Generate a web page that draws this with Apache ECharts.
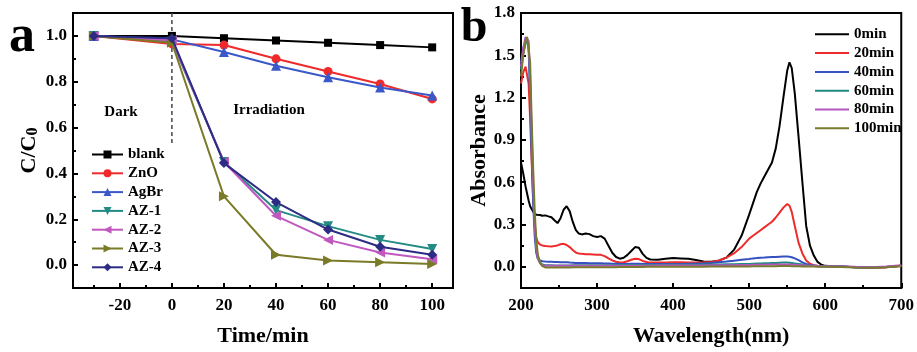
<!DOCTYPE html>
<html>
<head>
<meta charset="utf-8">
<script src="https://cdn.jsdelivr.net/npm/echarts@6/dist/echarts.min.js"></script>
<style>
  html, body { margin: 0; padding: 0; background: #fff; }
  #chart { width: 917px; height: 352px; }
</style>
</head>
<body>
<div id="chart"></div>
<script>
// ---- Panel a: C/C0 versus time ----
const timeMin = [-30, 0, 20, 40, 60, 80, 100];
const blank = [1.0, 1.0, 0.99, 0.98, 0.97, 0.96, 0.95];
const zno   = [1.0, 0.965, 0.96, 0.90, 0.845, 0.79, 0.725];
const agbr  = [1.0, 0.985, 0.93, 0.87, 0.82, 0.775, 0.74];
const az1   = [1.0, 0.975, 0.45, 0.24, 0.17, 0.11, 0.07];
const az2   = [1.0, 0.98, 0.45, 0.215, 0.11, 0.055, 0.025];
const az3   = [1.0, 0.97, 0.30, 0.045, 0.02, 0.012, 0.005];
const az4   = [1.0, 0.99, 0.445, 0.275, 0.155, 0.08, 0.045];
const kineticNames = ['blank', 'ZnO', 'AgBr', 'AZ-1', 'AZ-2', 'AZ-3', 'AZ-4'];

// dark / light boundary
const dividerX = 0;
const dividerY = [1.1, 0.53];

const aXMajor = [-20, 0, 20, 40, 60, 80, 100];
const aXMinor = [-30, -10, 10, 30, 50, 70, 90];
const aYMajor = [0, 0.2, 0.4, 0.6, 0.8, 1.0];
const aYMinor = [0.1, 0.3, 0.5, 0.7, 0.9];

// ---- Panel b: UV-vis spectra ----
const wavelength = [200,203,206,208,210,212,214,216,218,220,
  222,225,228,232,236,240,244,248,252,256,
  260,264,268,272,276,280,285,290,295,300,
  305,310,315,320,325,330,335,340,345,350,
  355,360,365,370,380,390,400,410,420,430,
  440,450,460,470,480,490,500,505,510,515,
  520,525,530,535,540,545,550,553,556,560,
  565,570,575,580,585,590,595,600,610,620,
  640,660,680,700];

const abs0 = [0.74,0.66,0.57,0.52,0.47,0.43,0.41,0.39,0.38,0.37,
  0.37,0.368,0.362,0.365,0.358,0.352,0.33,0.31,0.345,0.405,
  0.43,0.395,0.32,0.262,0.236,0.23,0.236,0.232,0.218,0.212,
  0.218,0.2,0.15,0.1,0.07,0.058,0.065,0.085,0.112,0.14,
  0.135,0.092,0.064,0.052,0.05,0.058,0.062,0.06,0.057,0.048,
  0.038,0.036,0.044,0.065,0.12,0.22,0.37,0.45,0.53,0.59,
  0.64,0.69,0.74,0.84,1.0,1.2,1.39,1.45,1.41,1.23,
  0.92,0.6,0.29,0.15,0.08,0.035,0.015,0.007,0.004,0.002,
  -0.003,-0.005,-0.003,0.008];

const abs20 = [1.30,1.38,1.42,1.43,1.3,1.05,0.75,0.48,0.3,0.21,
  0.175,0.158,0.152,0.148,0.146,0.145,0.148,0.152,0.16,0.163,
  0.155,0.14,0.12,0.102,0.094,0.092,0.09,0.09,0.088,0.086,
  0.085,0.076,0.06,0.046,0.036,0.031,0.033,0.04,0.05,0.058,
  0.055,0.042,0.034,0.03,0.03,0.031,0.032,0.032,0.031,0.031,
  0.032,0.035,0.045,0.065,0.095,0.14,0.2,0.22,0.24,0.26,
  0.28,0.3,0.32,0.35,0.385,0.42,0.445,0.435,0.39,0.29,
  0.17,0.095,0.045,0.022,0.012,0.008,0.006,0.005,0.004,0.002,
  -0.002,-0.004,-0.002,0.008];

const abs40 = [1.45,1.55,1.6,1.62,1.55,1.2,0.8,0.45,0.22,0.1,
  0.06,0.045,0.04,0.038,0.037,0.036,0.034,0.034,0.033,0.033,
  0.032,0.03,0.029,0.028,0.028,0.027,0.027,0.026,0.026,0.025,
  0.025,0.024,0.023,0.022,0.022,0.021,0.021,0.021,0.022,0.022,
  0.022,0.021,0.02,0.02,0.02,0.02,0.02,0.021,0.022,0.023,
  0.025,0.028,0.033,0.038,0.044,0.05,0.056,0.06,0.062,0.065,
  0.066,0.068,0.069,0.07,0.072,0.073,0.073,0.071,0.068,0.06,
  0.047,0.032,0.021,0.014,0.009,0.006,0.005,0.004,0.003,0.002,
  -0.002,-0.003,-0.001,0.008];

const abs60 = [1.40,1.52,1.58,1.61,1.58,1.3,0.9,0.55,0.3,0.15,
  0.07,0.03,0.016,0.012,0.011,0.011,0.01,0.01,0.01,0.01,
  0.01,0.01,0.011,0.011,0.012,0.012,0.012,0.012,0.012,0.012,
  0.012,0.012,0.012,0.012,0.012,0.013,0.013,0.013,0.013,0.013,
  0.013,0.013,0.013,0.013,0.013,0.014,0.014,0.014,0.015,0.015,
  0.016,0.016,0.017,0.018,0.019,0.02,0.021,0.022,0.023,0.024,
  0.025,0.026,0.027,0.028,0.029,0.03,0.03,0.029,0.027,0.024,
  0.02,0.016,0.012,0.009,0.007,0.005,0.004,0.004,0.003,0.002,
  -0.002,-0.003,-0.001,0.008];

const abs80 = [1.42,1.55,1.63,1.64,1.6,1.35,0.95,0.58,0.3,0.14,
  0.06,0.025,0.012,0.008,0.007,0.007,0.007,0.007,0.007,0.007,
  0.008,0.008,0.008,0.008,0.008,0.008,0.008,0.008,0.008,0.008,
  0.008,0.008,0.008,0.008,0.008,0.008,0.008,0.008,0.008,0.008,
  0.008,0.008,0.008,0.008,0.009,0.009,0.009,0.01,0.01,0.01,
  0.01,0.011,0.011,0.012,0.012,0.013,0.013,0.014,0.014,0.015,
  0.015,0.016,0.016,0.017,0.017,0.017,0.017,0.017,0.016,0.015,
  0.013,0.011,0.009,0.008,0.007,0.006,0.005,0.005,0.004,0.003,
  0.0,-0.002,0.002,0.012];

const abs100 = [1.35,1.5,1.6,1.63,1.62,1.45,1.05,0.7,0.4,0.2,
  0.09,0.03,0.005,-0.004,-0.005,-0.005,-0.005,-0.004,-0.004,-0.004,
  -0.004,-0.004,-0.003,-0.003,-0.003,-0.003,-0.003,-0.002,-0.002,-0.002,
  -0.002,-0.002,-0.002,-0.002,-0.002,-0.001,-0.001,-0.001,-0.001,-0.001,
  -0.001,-0.001,0,0,0,0,0,0,0.001,0.001,
  0.001,0.002,0.002,0.002,0.003,0.003,0.003,0.004,0.004,0.004,
  0.005,0.005,0.005,0.005,0.006,0.006,0.006,0.006,0.005,0.005,
  0.004,0.003,0.003,0.002,0.002,0.001,0.001,0.0,0.0,-0.001,
  -0.004,-0.006,-0.003,0.005];

const spectraNames = ['0min', '20min', '40min', '60min', '80min', '100min'];

const bXMinor = [250, 350, 450, 550, 650];
const bYMajor = [0, 0.3, 0.6, 0.9, 1.2, 1.5, 1.8];
const bYMinor = [0.15, 0.45, 0.75, 1.05, 1.35, 1.65];

// ---- styling ----
const SERIF = '"Liberation Serif", "Times New Roman", serif';
const tickText = { fontFamily: SERIF, fontWeight: 'bold', fontSize: 17, color: '#000' };
const nameText = { fontFamily: SERIF, fontWeight: 'bold', fontSize: 22, color: '#000' };

const kineticColors = ['#000000', '#f02a2a', '#3a58c8', '#238a84', '#c058c0', '#7a7a28', '#2c2c84'];
const kineticSymbols = ['rect', 'circle', 'triangle', 'triangle', 'triangle', 'triangle', 'diamond'];
const kineticRotate = [0, 0, 0, 180, 90, -90, 0];
const kineticSizes = [8, 9, 10, 10, 10, 10, 10];
const kineticData = [blank, zno, agbr, az1, az2, az3, az4];

const spectraColors = ['#000000', '#ee2a2a', '#3550c0', '#1f8a80', '#b455c0', '#7a7a30'];
const spectraData = [abs0, abs20, abs40, abs60, abs80, abs100];

function zip(xs, ys) { return xs.map((x, i) => [x, ys[i]]); }

function majorAxis(extra) {
  return Object.assign({
    type: 'value',
    axisLine: { show: true, onZero: false, lineStyle: { color: '#000', width: 2 } },
    axisTick: { show: true, inside: true, length: 5, lineStyle: { color: '#000', width: 2 } },
    splitLine: { show: false },
    axisLabel: Object.assign({}, tickText)
  }, extra);
}
function minorAxis(extra) {
  return Object.assign({
    type: 'value',
    axisLine: { show: false, onZero: false },
    axisTick: { show: true, inside: true, length: 3, lineStyle: { color: '#000', width: 2 } },
    splitLine: { show: false },
    axisLabel: { show: false }
  }, extra);
}

const series = [];
kineticNames.forEach((name, i) => {
  series.push({
    name: name, type: 'line', xAxisIndex: 0, yAxisIndex: 0,
    data: zip(timeMin, kineticData[i]),
    symbol: kineticSymbols[i], symbolRotate: kineticRotate[i], symbolSize: kineticSizes[i],
    lineStyle: { color: kineticColors[i], width: 2 },
    itemStyle: { color: kineticColors[i] },
    z: 3 + i
  });
});
series.push({
  name: 'divider', type: 'line', xAxisIndex: 0, yAxisIndex: 0,
  data: dividerY.map(y => [dividerX, y]),
  symbol: 'none', silent: true,
  lineStyle: { color: '#444', width: 1.5, type: [4, 3] }, z: 2
});
spectraNames.forEach((name, i) => {
  series.push({
    name: name, type: 'line', xAxisIndex: 2, yAxisIndex: 2,
    data: zip(wavelength, spectraData[i]),
    symbol: 'none',
    lineStyle: { color: spectraColors[i], width: 2 },
    itemStyle: { color: spectraColors[i] },
    z: 3 + i
  });
});

const legendText = { fontFamily: SERIF, fontWeight: 'bold', fontSize: 15, color: '#000', lineHeight: 15 };

const option = {
  animation: false,
  backgroundColor: '#fff',
  grid: [
    { left: 73, top: 13, width: 380, height: 281, show: true, borderColor: '#000', borderWidth: 2, backgroundColor: 'transparent' },
    { left: 521, top: 13, width: 382, height: 281, show: true, borderColor: '#000', borderWidth: 2, backgroundColor: 'transparent' }
  ],
  xAxis: [
    majorAxis({
      gridIndex: 0, min: -38, max: 108, position: 'bottom',
      axisTick: { show: true, inside: true, length: 5, lineStyle: { color: '#000', width: 2 }, customValues: aXMajor },
      axisLabel: Object.assign({ customValues: aXMajor, margin: 9 }, tickText),
      name: 'Time/min', nameLocation: 'middle', nameGap: 37, nameTextStyle: nameText
    }),
    minorAxis({
      gridIndex: 0, min: -38, max: 108, position: 'bottom',
      axisTick: { show: true, inside: true, length: 3, lineStyle: { color: '#000', width: 2 }, customValues: aXMinor }
    }),
    majorAxis({
      gridIndex: 1, min: 200, max: 700, interval: 100, position: 'bottom',
      axisLabel: Object.assign({ margin: 9 }, tickText),
      name: 'Wavelength(nm)', nameLocation: 'middle', nameGap: 37, nameTextStyle: nameText
    }),
    minorAxis({
      gridIndex: 1, min: 200, max: 700, position: 'bottom',
      axisTick: { show: true, inside: true, length: 3, lineStyle: { color: '#000', width: 2 }, customValues: bXMinor }
    })
  ],
  yAxis: [
    majorAxis({
      gridIndex: 0, min: -0.1, max: 1.1, position: 'left',
      axisTick: { show: true, inside: true, length: 5, lineStyle: { color: '#000', width: 2 }, customValues: aYMajor },
      axisLabel: Object.assign({ customValues: aYMajor, margin: 6, formatter: v => v.toFixed(1) }, tickText),
      name: 'C/C{s|0}', nameLocation: 'middle', nameGap: 32, nameRotate: 90,
      nameTextStyle: Object.assign({}, nameText, {
        rich: { s: { fontFamily: SERIF, fontWeight: 'bold', fontSize: 16, color: '#000', padding: [7, 0, 0, 0] } }
      })
    }),
    minorAxis({
      gridIndex: 0, min: -0.1, max: 1.1, position: 'left',
      axisTick: { show: true, inside: true, length: 3, lineStyle: { color: '#000', width: 2 }, customValues: aYMinor }
    }),
    majorAxis({
      gridIndex: 1, min: -0.15, max: 1.8, position: 'left',
      axisTick: { show: true, inside: true, length: 5, lineStyle: { color: '#000', width: 2 }, customValues: bYMajor },
      axisLabel: Object.assign({ customValues: bYMajor, margin: 6, formatter: v => v.toFixed(1) }, tickText),
      name: 'Absorbance', nameLocation: 'middle', nameGap: 30, nameRotate: 90, nameTextStyle: nameText
    }),
    minorAxis({
      gridIndex: 1, min: -0.15, max: 1.8, position: 'left',
      axisTick: { show: true, inside: true, length: 3, lineStyle: { color: '#000', width: 2 }, customValues: bYMinor }
    })
  ],
  legend: [
    {
      data: kineticNames, orient: 'vertical', left: 91, top: 147,
      itemWidth: 31, itemHeight: 10, itemGap: 3.8, padding: 0,
      textStyle: legendText, selectedMode: false
    },
    {
      data: spectraNames.map(n => ({ name: n, icon: 'rect' })),
      orient: 'vertical', left: 815, top: 26.8,
      itemWidth: 34, itemHeight: 2, itemGap: 3.8, padding: 0,
      textStyle: legendText, selectedMode: false
    }
  ],
  graphic: [
    { type: 'text', x: 22, y: 38, style: { text: 'a', font: 'bold 52px ' + SERIF, fill: '#000', align: 'center', verticalAlign: 'middle' } },
    { type: 'text', x: 474, y: 29, style: { text: 'b', font: 'bold 48px ' + SERIF, fill: '#000', align: 'center', verticalAlign: 'middle' } },
    { type: 'text', x: 121, y: 112, style: { text: 'Dark', font: 'bold 15px ' + SERIF, fill: '#000', align: 'center', verticalAlign: 'middle' } },
    { type: 'text', x: 269, y: 110, style: { text: 'Irradiation', font: 'bold 15px ' + SERIF, fill: '#000', align: 'center', verticalAlign: 'middle' } }
  ],
  series: series
};

const chart = echarts.init(document.getElementById('chart'), null, { renderer: 'canvas' });
chart.setOption(option);
</script>
</body>
</html>
